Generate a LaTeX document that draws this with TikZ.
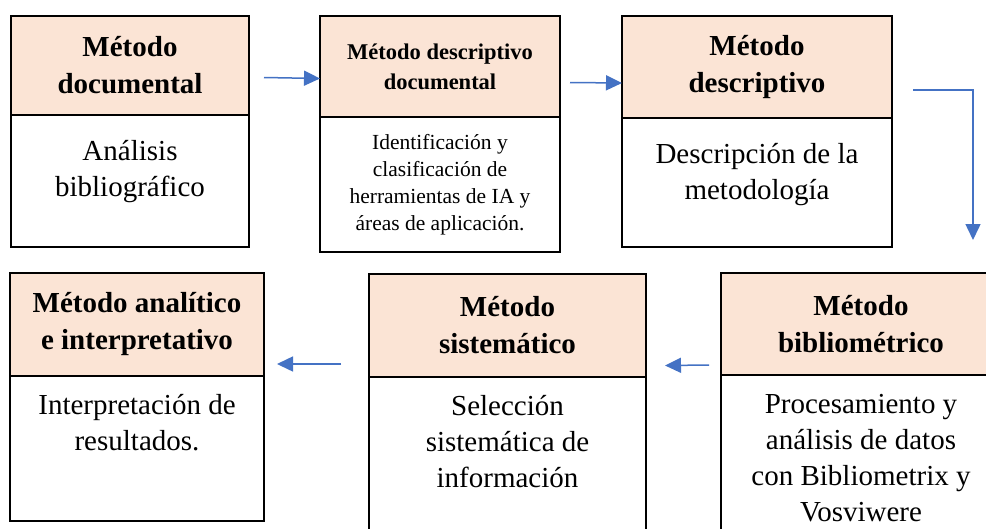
\documentclass[tikz,border=0pt]{standalone}
\usepackage{fontspec}
\setmainfont{Liberation Serif}
\usetikzlibrary{positioning,arrows.meta}
\definecolor{durazno}{HTML}{FBE4D5}
\definecolor{azul}{HTML}{4472C4}

\begin{document}
\begin{tikzpicture}[x=1pt, y=-1pt,
  cabeza/.style={draw, line width=2.5pt, fill=durazno, inner sep=0pt, outer sep=0pt, align=center, font=\fontsize{29}{37}\selectfont\bfseries},
  cuerpo/.style={draw, line width=2.5pt, fill=white, inner sep=0pt, outer sep=0pt},
  texto/.style={inner sep=0pt, align=center, font=\fontsize{29}{36}\selectfont},
  flecha/.style={-{Triangle[length=16pt,width=15pt]}, azul, line width=1.5pt}]

  \path[use as bounding box, fill=white] (0,0) rectangle (986,528);
  \clip (0,0) rectangle (986,528);

  \node[cabeza, minimum width=238, minimum height=99] (documental) at (130,65.5) {Método\\documental};
  \node[cuerpo, minimum width=238, minimum height=132, below=0pt of documental] (documentalB) {};
  \node[texto, below=25pt of documental] (documentalT) {Análisis\\bibliográfico};

  \node[cabeza, minimum width=240, minimum height=101, font=\fontsize{22.5}{30}\selectfont\bfseries] (descdoc) at (440,66.5) {Método descriptivo\\documental};
  \node[cuerpo, minimum width=240, minimum height=135, below=0pt of descdoc] (descdocB) {};
  \node[texto, below=17pt of descdoc, font=\fontsize{21.5}{27}\selectfont] (descdocT) {Identificación y\\clasificación de\\herramientas de IA y\\áreas de aplicación.};

  \node[cabeza, minimum width=270, minimum height=102] (descriptivo) at (757,67) {Método\\descriptivo};
  \node[cuerpo, minimum width=270, minimum height=129, below=0pt of descriptivo] (descriptivoB) {};
  \node[texto, below=25pt of descriptivo] (descriptivoT) {Descripción de la\\metodología};

  \node[cabeza, minimum width=254, minimum height=103] (analitico) at (137,324.5) {Método analítico\\e interpretativo};
  \node[cuerpo, minimum width=254, minimum height=145, below=0pt of analitico] (analiticoB) {};
  \node[texto, below=18pt of analitico] (analiticoT) {Interpretación de\\resultados.};

  \node[cabeza, minimum width=277, minimum height=103] (sistematico) at (507.5,325.5) {Método\\sistemático};
  \node[cuerpo, minimum width=277, minimum height=170, below=0pt of sistematico] (sistematicoB) {};
  \node[texto, below=18pt of sistematico] (sistematicoT) {Selección\\sistemática de\\información};

  \node[cabeza, minimum width=280, minimum height=102] (biblio) at (861,324) {Método\\bibliométrico};
  \node[cuerpo, minimum width=280, minimum height=175, below=0pt of biblio] (biblioB) {};
  \node[texto, below=19pt of biblio] (biblioT) {Procesamiento y\\análisis de datos\\con Bibliometrix y\\Vosviwere};

  \draw[flecha] ([shift={(15pt,-12pt)}]documental.east) -- ([yshift=-12pt]descdoc.west);
  \draw[flecha] ([shift={(10pt,-16pt)}]descdoc.east) -- ([yshift=-16pt]descriptivo.west);
  \draw[flecha] ([shift={(21pt,-23pt)}]descriptivo.east) -| ([shift={(112pt,33pt)}]biblio.north);
  \draw[flecha] ([shift={(-12pt,-41pt)}]biblio.west) -- ([shift={(19pt,-40pt)}]sistematico.east);
  \draw[flecha] ([shift={(-28pt,-38.5pt)}]sistematico.west) -- ([shift={(13pt,-39.5pt)}]analitico.east);

\end{tikzpicture}
\end{document}
